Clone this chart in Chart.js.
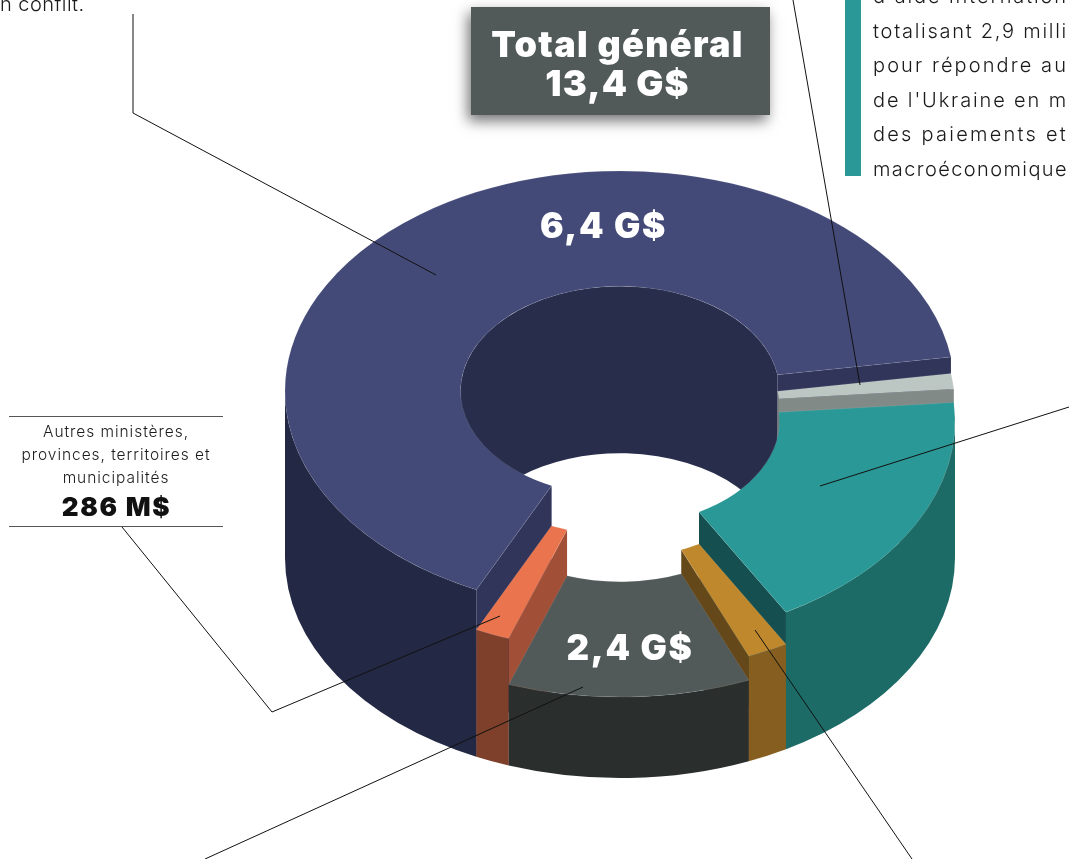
<!DOCTYPE html>
<html lang="fr"><head><meta charset="utf-8">
<style>html,body{margin:0;padding:0;background:#fff;overflow:hidden}canvas{display:block}</style>
<script src="https://cdn.jsdelivr.net/npm/chart.js@4"></script></head>
<body><canvas id="c" width="1069" height="859"></canvas>
<script>
// Slices clockwise: share of the ring in degrees, raised height of each block
const sliceNames = ["Bleu 6,4 G$","Gris clair","Sarcelle","Or","Gris 2,4 G$","Orange 286 M$"];
const ringShare = [235.7,4.1,65.1,7.1,42,6];
const blockHeight = [167,150.5,137,105,81,127];
const topColors = ["#434A78","#BCC6C2","#2A9896","#BF882D","#515959","#E9744D"];
const wallColors = ["#232844","#818A87","#1D6B67","#855E20","#2A2F2E","#7E402B"];
const sideColors = ["#31355A","#818A87","#154F50","#64481A","#2A2F2E","#A15037"];
const backColor = "#282D4B";
const tilt = 0.657, groundY = 558;

function drawBlocks(chart){
  const ctx = chart.ctx, arcs = chart.getDatasetMeta(0).data;
  const order = arcs.map((_,i)=>i).sort((a,b)=>blockHeight[b]-blockHeight[a]);
  const TAU = Math.PI*2;
  const ranges = (a,b,lo,hi)=>{ const r=[]; for(const k of [0,TAU]){ const s=Math.max(a,lo+k), e=Math.min(b,hi+k); if(e>s) r.push([s,e]); } return r; };
  for(const i of order){
    const arc = arcs[i], cx = arc.x, R = arc.outerRadius, r = arc.innerRadius;
    const a1 = arc.startAngle, a2 = arc.endAngle, topY = groundY-blockHeight[i];
    const band = (rad,s,e,col)=>{ ctx.beginPath();
      ctx.ellipse(cx,topY,rad,rad*tilt,0,s,e);
      ctx.ellipse(cx,groundY,rad,rad*tilt,0,e,s,true);
      ctx.closePath(); ctx.fillStyle=col; ctx.fill(); };
    const side = (ang,col)=>{ const c=Math.cos(ang), s=Math.sin(ang)*tilt;
      ctx.beginPath();
      ctx.moveTo(cx+r*c,topY+r*s); ctx.lineTo(cx+R*c,topY+R*s);
      ctx.lineTo(cx+R*c,groundY+R*s); ctx.lineTo(cx+r*c,groundY+r*s);
      ctx.closePath(); ctx.fillStyle=col; ctx.fill(); };
    for(const [s,e] of ranges(a1,a2,Math.PI,TAU)) band(r,s,e,i===0?backColor:sideColors[i]);
    if(Math.cos(a1)<0) side(a1,sideColors[i]);
    if(Math.cos(a2)>0) side(a2,sideColors[i]);
    for(const [s,e] of ranges(a1,a2,0,Math.PI)) band(R,s,e,wallColors[i]);
    ctx.save();
    ctx.translate(cx,topY); ctx.scale(1,tilt); ctx.translate(-arc.x,-arc.y);
    arc.draw(ctx);
    ctx.restore();
  }
}

const leaders = [
  [[133,14],[133,113],[436,275]],
  [[793,0],[860,385]],
  [[1069,407],[820,486]],
  [[122,527],[272,712],[500,616]],
  [[205,859],[583,687]],
  [[912,859],[755,630]]
];
const bodyFont = "Inter, sans-serif";
const heavyFont = "Inter, sans-serif";
const noteLines = ["d'aide internation","totalisant 2,9 milli","pour répondre au","de l'Ukraine en m","des paiements et","macroéconomique"];
const calloutLines = ["Autres ministères,","provinces, territoires et","municipalités"];

function text(ctx,s,x,y,font,col,align,sp){
  ctx.font=font; ctx.fillStyle=col; ctx.textAlign=align||"left"; ctx.textBaseline="alphabetic";
  ctx.letterSpacing=(sp||0)+"px"; ctx.fillText(s,x,y); ctx.letterSpacing="0px";
}
function fitted(ctx,s,x,y,font,col,width){
  ctx.font=font; ctx.letterSpacing="0px";
  text(ctx,s,x,y,font,col,"left",(width-ctx.measureText(s).width)/s.length);
}
function drawNotes(chart){
  const ctx=chart.ctx;
  // Total box
  ctx.save(); ctx.shadowColor="rgba(0,0,0,.55)"; ctx.shadowBlur=13; ctx.shadowOffsetX=-3; ctx.shadowOffsetY=6;
  ctx.fillStyle="#515959"; ctx.fillRect(471,7,299,108); ctx.restore();
  text(ctx,"Total général",617.5,57,"900 36px "+heavyFont,"#fff","center",1.3);
  text(ctx,"13,4 G$",617.5,96,"900 36px "+heavyFont,"#fff","center",1.1);
  // Teal note
  ctx.fillStyle="#2A9896"; ctx.fillRect(845,0,16,176);
  noteLines.forEach((s,i)=>fitted(ctx,s,873,3+i*34.5,"300 20px "+bodyFont,"#1a1a1a",195));
  text(ctx,"n conflit.",0,11,"300 20px "+bodyFont,"#1a1a1a","left",0.45);
  // Left callout
  ctx.strokeStyle="#555"; ctx.lineWidth=1;
  [416.5,526.5].forEach(y=>{ctx.beginPath();ctx.moveTo(9,y);ctx.lineTo(223,y);ctx.stroke();});
  calloutLines.forEach((s,i)=>text(ctx,s,116,437+i*23,"300 15.5px "+bodyFont,"#1a1a1a","center",0.95));
  text(ctx,"286 M$",116.5,516,"900 26px "+heavyFont,"#111","center",1.7);
  // Labels on blocks
  text(ctx,"6,4 G$",603.5,238,"900 35px "+heavyFont,"#fff","center",1.7);
  text(ctx,"2,4 G$",630,660,"900 35px "+heavyFont,"#fff","center",1.7);
  // Leader lines
  ctx.strokeStyle="#111"; ctx.lineWidth=1;
  leaders.forEach(p=>{ctx.beginPath();p.forEach((q,i)=>i?ctx.lineTo(q[0],q[1]):ctx.moveTo(q[0],q[1]));ctx.stroke();});
}

new Chart(document.getElementById("c"),{
  type:"doughnut",
  data:{labels:sliceNames,datasets:[{data:ringShare,backgroundColor:topColors,borderWidth:0.5,borderColor:"rgba(255,255,255,.22)"}]},
  options:{responsive:false,animation:false,events:[],rotation:205.4,radius:335,cutout:"47.6%",
    layout:{padding:{left:171}},
    plugins:{legend:{display:false},tooltip:{enabled:false}}},
  plugins:[{id:"blocks",
    beforeDatasetsDraw(chart){drawBlocks(chart);return false;},
    afterDraw(chart){drawNotes(chart);}}]
});
</script></body></html>
